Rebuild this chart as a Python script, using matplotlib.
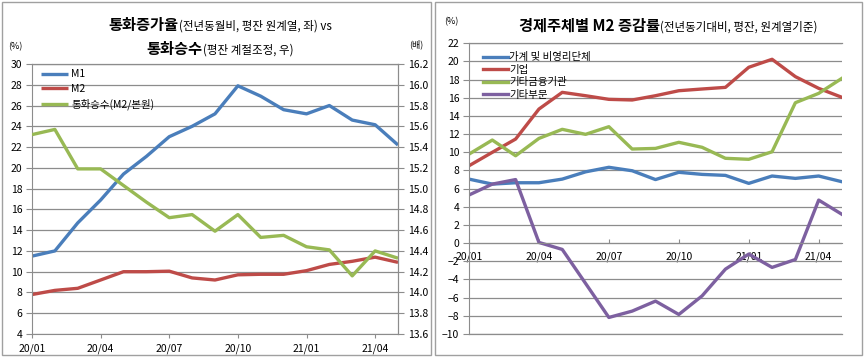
import matplotlib
matplotlib.use("Agg")
import matplotlib.pyplot as plt
from matplotlib.patches import Rectangle
import numpy as np

plt.rcParams['font.family'] = ['Noto Sans CJK KR', 'DejaVu Sans']

months = ["20/01","20/02","20/03","20/04","20/05","20/06","20/07","20/08","20/09",
          "20/10","20/11","20/12","21/01","21/02","21/03","21/04","21/05"]
tick_labels = ["20/01","20/04","20/07","20/10","21/01","21/04"]

# Left panel
m1 = [11.5, 12.0, 14.7, 16.9, 19.4, 21.1, 23.0, 24.0, 25.2, 27.9, 26.9, 25.6, 25.2, 26.0, 24.6, 24.15, 22.2]
m2 = [7.8, 8.2, 8.4, 9.2, 10.0, 10.0, 10.05, 9.4, 9.2, 9.7, 9.75, 9.75, 10.1, 10.7, 11.0, 11.4, 10.9]
multiplier = [15.52, 15.57, 15.19, 15.19, 15.03, 14.87, 14.72, 14.75, 14.59, 14.75, 14.53, 14.55,
              14.44, 14.41, 14.16, 14.40, 14.33]

# Right panel
household = [7.05, 6.5, 6.65, 6.65, 7.05, 7.85, 8.35, 7.97, 7.0, 7.8, 7.57, 7.46, 6.58, 7.39, 7.13, 7.39, 6.76]
corporate = [8.52, 10.0, 11.46, 14.76, 16.6, 16.23, 15.83, 15.76, 16.23, 16.78, 16.97, 17.15, 19.36, 20.24, 18.33, 17.04, 16.05]
other_fin = [9.8, 11.35, 9.62, 11.53, 12.53, 11.98, 12.82, 10.36, 10.43, 11.1, 10.55, 9.34, 9.23, 10.06, 15.46, 16.49, 18.15]
other_sec = [5.3, 6.5, 7.0, 0.08, -0.69, -4.43, -8.18, -7.48, -6.38, -7.85, -5.8, -2.86, -1.2, -2.67, -1.8, 4.74, 3.17]

BLUE = "#4A7EBB"
RED = "#BE4B48"
GREEN = "#98B954"
PURPLE = "#7D60A0"
GRID = "#8C8C8C"
LW = 2.4

W, H = 867, 360
fig = plt.figure(figsize=(W/100, H/100), dpi=100)

def fx(px):
    return px / W
def fy(py):
    return 1 - py / H

# panel borders
fig.patches.append(Rectangle((fx(1.5), fy(355)), fx(431) - fx(1.5), fy(2) - fy(355),
                             transform=fig.transFigure, fill=False, edgecolor="#A0A0A0", lw=1.0))
fig.patches.append(Rectangle((fx(435), fy(355)), fx(862) - fx(435), fy(2) - fy(355),
                             transform=fig.transFigure, fill=False, edgecolor="#A0A0A0", lw=1.0))

x = np.arange(len(months))
tick_pos = [months.index(t) for t in tick_labels]

# ---------- Left panel ----------
ax1 = fig.add_axes([fx(32), fy(334), fx(398) - fx(32), fy(64) - fy(334)])
ax1.set_xlim(0, len(months) - 1)
ax1.set_ylim(4, 30)
ax1.set_yticks(np.arange(4, 31, 2))
ax1.grid(axis='y', color=GRID, lw=0.9)
ax1.set_axisbelow(True)
ax1.spines['top'].set_visible(False)
for s in ['left', 'bottom', 'right']:
    ax1.spines[s].set_color(GRID)
ax1.axhline(30, color=GRID, lw=0.9, clip_on=False, zorder=0)
ax1.set_xticks(tick_pos)
ax1.set_xticklabels(tick_labels)
ax1.tick_params(axis='x', length=3, color=GRID, labelsize=7.5, pad=4)
ax1.tick_params(axis='y', length=4, color=GRID, labelsize=7.5, pad=3)

ax2 = ax1.twinx()
ax2.set_ylim(13.6, 16.2)
ax2.set_yticks(np.round(np.arange(13.6, 16.21, 0.2), 1))
ax2.set_yticklabels([f"{v:.1f}" for v in np.arange(13.6, 16.21, 0.2)])
ax2.tick_params(axis='y', length=4, color=GRID, labelsize=7.5, pad=3)
for s in ['top', 'left', 'bottom']:
    ax2.spines[s].set_visible(False)
ax2.spines['right'].set_color(GRID)

l1, = ax1.plot(x, m1, color=BLUE, lw=LW, solid_capstyle='butt', label="M1")
l2, = ax1.plot(x, m2, color=RED, lw=LW, solid_capstyle='butt', label="M2")
l3, = ax2.plot(x, multiplier, color=GREEN, lw=LW, solid_capstyle='butt', label="통화승수(M2/본원)")
ax2.legend(handles=[l1, l2, l3], loc='upper left', bbox_to_anchor=(fx(34), fy(62)),
           bbox_transform=fig.transFigure, frameon=False, fontsize=7.5,
           handlelength=2.6, handletextpad=0.3, labelspacing=0.45, borderpad=0.2)

# ---------- Right panel ----------
ax3 = fig.add_axes([fx(469), fy(334), fx(842) - fx(469), fy(43.3) - fy(334)])
ax3.set_xlim(0, len(months) - 1)
ax3.set_ylim(-10, 22)
ax3.set_yticks(np.arange(-10, 23, 2))
ax3.grid(axis='y', color=GRID, lw=0.9)
ax3.set_axisbelow(True)
for s in ['top', 'right']:
    ax3.spines[s].set_visible(False)
ax3.spines['left'].set_color(GRID)
ax3.spines['bottom'].set_color(GRID)
ax3.spines['bottom'].set_position(('data', 0))
ax3.axhline(-10, color=GRID, lw=0.9, clip_on=False, zorder=0)
ax3.axhline(22, color=GRID, lw=0.9, clip_on=False, zorder=0)
ax3.set_xticks(tick_pos)
ax3.set_xticklabels(tick_labels)
ax3.tick_params(axis='x', length=3, direction='in', color=GRID, labelsize=7.5, pad=6)
ax3.tick_params(axis='y', length=4, color=GRID, labelsize=7.5, pad=3)

h1, = ax3.plot(x, household, color=BLUE, lw=LW, label="가계 및 비영리단체")
h2, = ax3.plot(x, corporate, color=RED, lw=LW, label="기업")
h3, = ax3.plot(x, other_fin, color=GREEN, lw=LW, label="기타금융기관")
h4, = ax3.plot(x, other_sec, color=PURPLE, lw=LW, label="기타부문")
ax3.legend(handles=[h1, h2, h3, h4], loc='upper left', bbox_to_anchor=(fx(476), fy(45)),
           bbox_transform=fig.transFigure, frameon=False, fontsize=7.5,
           handlelength=2.4, handletextpad=0.1, labelspacing=0.25, borderpad=0.2)

# ---------- Titles ----------
renderer = fig.canvas.get_renderer()

def mixed(xc, ybase, parts):
    texts = []
    for s, size, weight in parts:
        t = fig.text(0, fy(ybase), s, fontsize=size, fontweight=weight, va='baseline', ha='left')
        texts.append(t)
    widths = [t.get_window_extent(renderer).width for t in texts]
    total = sum(widths)
    cur = xc - total / 2
    for t, w in zip(texts, widths):
        t.set_x(fx(cur))
        cur += w

mixed(220, 30, [("통화증가율", 11, 'bold'), ("(전년동월비, 평잔 원계열, 좌) vs", 8.3, 'normal')])
mixed(220, 54, [("통화승수", 11, 'bold'), ("(평잔 계절조정, 우)", 8.3, 'normal')])
mixed(668, 31, [("경제주체별 M2 증감률", 11, 'bold'), ("(전년동기대비, 평잔, 원계열기준)", 8.3, 'normal')])

fig.text(fx(15), fy(47), "(%)", fontsize=6.5, ha='center', va='center')
fig.text(fx(416), fy(44), "(배)", fontsize=6.5, ha='center', va='center')
fig.text(fx(451), fy(22), "(%)", fontsize=6.5, ha='center', va='center')

fig.savefig("out.png", dpi=100)
